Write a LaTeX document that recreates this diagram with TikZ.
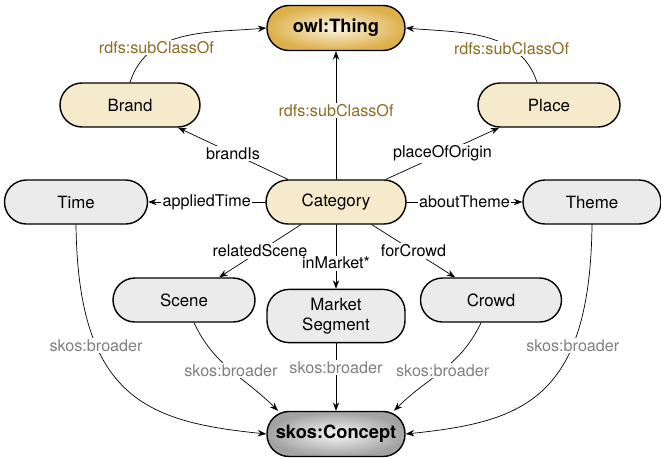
\documentclass[tikz,border=0pt]{standalone}
\usepackage{fontspec}
\setmainfont{TeX Gyre Heros}
\usetikzlibrary{arrows.meta}
\definecolor{clsbeige}{HTML}{F5EACB}
\definecolor{clsgray}{HTML}{EBEBEB}
\definecolor{thinggold}{HTML}{DDB04A}
\definecolor{thinglight}{HTML}{FCF5E4}
\definecolor{conceptdark}{HTML}{A2A2A2}
\definecolor{conceptlight}{HTML}{F6F6F6}
\definecolor{subbrown}{HTML}{8B6D1F}
\definecolor{broadgray}{HTML}{808080}
\tikzset{
  cls/.style={draw, line width=1pt, rounded corners=0.55cm, minimum height=1.1cm,
    minimum width=3.5cm, fill=clsbeige, align=center, font=\fontsize{12}{14}\selectfont},
  voc/.style={cls, fill=clsgray},
  root/.style={cls, minimum width=3.45cm, minimum height=1.125cm, font=\fontsize{13}{15}\selectfont\bfseries},
  rel/.style={fill=white, inner sep=1pt, font=\fontsize{11.5}{13}\selectfont},
  sub/.style={rel, text=subbrown},
  brd/.style={rel, text=broadgray},
}
\begin{document}
\begin{tikzpicture}[>={Stealth[length=6pt,width=4.5pt]}, line join=round, line cap=round]
\useasboundingbox (0,0) rectangle (16.525,-11.425);
% classes
\node[root, shading=radial, inner color=thinglight, outer color=thinggold] (thing) at (8.4,-0.7) {owl:Thing};
\node[cls] (brand) at (3.25,-2.625) {Brand};
\node[cls, minimum width=3.55cm] (place) at (13.725,-2.625) {Place};
\node[cls] (category) at (8.4,-5.05) {Category};
\node[voc, minimum width=3.575cm] (time) at (1.9,-5.05) {Time};
\node[voc, minimum width=3.45cm] (theme) at (14.8,-5.05) {Theme};
\node[voc, minimum width=3.55cm] (scene) at (4.6,-7.5) {Scene};
\node[voc, minimum width=3.45cm, minimum height=1.33cm] (market) at (8.4,-7.9) {Market\\Segment};
\node[voc, minimum width=3.525cm] (crowd) at (12.275,-7.5) {Crowd};
\node[root, shading=radial, inner color=conceptlight, outer color=conceptdark] (concept) at (8.4,-10.85) {skos:Concept};
% rdfs:subClassOf
\draw[->, line width=0.5pt] (brand.north) to[out=72,in=185] node[sub, pos=0.3] {rdfs:subClassOf} (thing.west);
\draw[->, line width=0.5pt] ([xshift=-0.3cm]place.north) to[out=108,in=-5] node[sub, pos=0.3] {rdfs:subClassOf} (thing.east);
\draw[->, line width=0.5pt] (category) -- node[sub, pos=0.54] {rdfs:subClassOf} (thing);
% properties
\draw[->, line width=0.5pt] (category) -- node[rel] {brandIs} (brand);
\draw[->, line width=0.5pt] (category) -- node[rel] {placeOfOrigin} (place);
\draw[->, line width=0.5pt] (category) -- node[rel] {appliedTime} (time);
\draw[->, line width=0.5pt] (category) -- node[rel] {aboutTheme} (theme);
\draw[->, line width=0.5pt] (category) -- node[rel] {relatedScene} (scene);
\draw[->, line width=0.5pt] (category) -- node[rel, pos=0.6] {inMarket*} (market);
\draw[->, line width=0.5pt] (category) -- node[rel] {forCrowd} (crowd);
% skos:broader
\draw[->, line width=0.5pt] (time.south) .. controls +(0.05,-4.4) and +(-2.9,0.3) .. (concept.west) node[brd, pos=0.3] {skos:broader};
\draw[->, line width=0.5pt] (theme.south) .. controls +(-0.05,-4.4) and +(2.9,0.3) .. (concept.east) node[brd, pos=0.3] {skos:broader};
\draw[->, line width=0.5pt] ([xshift=0.25cm]scene.south) to[out=-65,in=135] node[brd] {skos:broader} ([xshift=-1.45cm]concept.north);
\draw[->, line width=0.5pt] ([xshift=-0.25cm]crowd.south) to[out=-115,in=45] node[brd] {skos:broader} ([xshift=1.45cm]concept.north);
\draw[->, line width=0.5pt] (market) -- node[brd, pos=0.36] {skos:broader} (concept);
\end{tikzpicture}
\end{document}
